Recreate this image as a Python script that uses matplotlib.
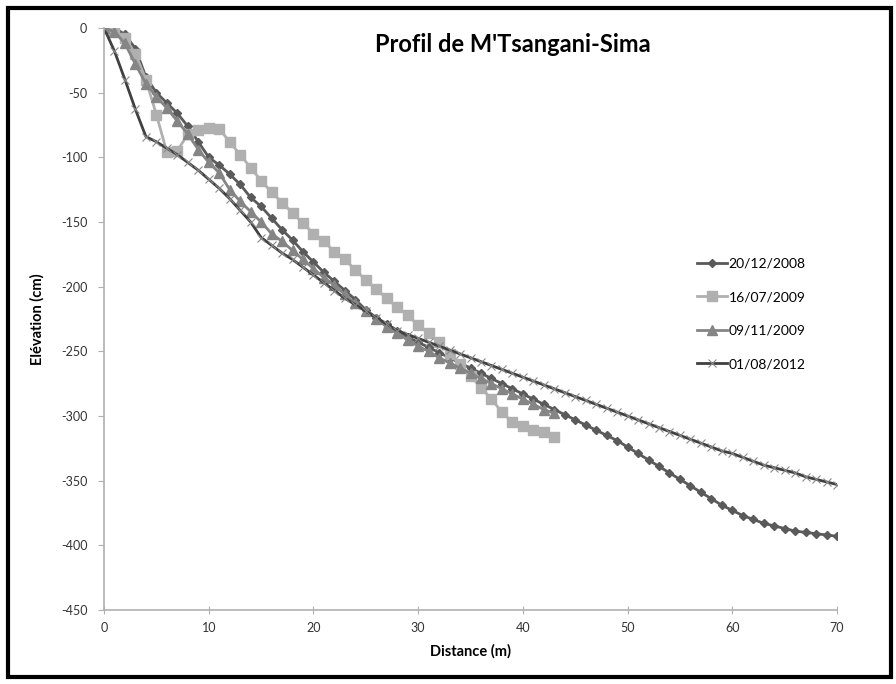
import numpy as np
import matplotlib
matplotlib.use('Agg')
import matplotlib.pyplot as plt
from matplotlib.patches import Rectangle

plt.rcParams['font.family'] = ['Lato', 'DejaVu Sans']
plt.rcParams['axes.unicode_minus'] = False

# distances (m)
dist_2008 = list(range(0, 71))
dist_2009a = list(range(0, 44))
dist_2009b = list(range(0, 44))
dist_2012 = list(range(0, 71))

elev_2008 = [0, 0, -5, -16, -38, -50, -58, -66, -76, -88,
             -100, -106, -113, -121, -131, -138, -147, -156, -164, -173,
             -181, -189, -196, -203, -210, -218, -224, -229, -234, -239,
             -243, -247, -251, -255, -259, -263, -267, -271, -275, -279,
             -283, -287, -291, -295, -299, -303, -307, -311, -315, -319,
             -324, -329, -334, -339, -344, -349, -354, -359, -364, -369,
             -373, -377, -380, -383, -385, -387, -389, -390, -391, -392,
             -393]
elev_2009a = [0, -2, -8, -20, -40, -67, -96, -95, -82, -79,
              -77, -78, -88, -98, -108, -118, -127, -135, -143, -151,
              -159, -165, -173, -179, -187, -195, -202, -209, -216, -222,
              -230, -236, -243, -252, -260, -269, -278, -287, -297, -305,
              -308, -311, -312, -316]
elev_2009b = [0, -3, -12, -28, -43, -53, -62, -72, -82, -94,
              -104, -112, -125, -134, -142, -150, -159, -165, -172, -179,
              -186, -193, -199, -206, -213, -219, -225, -231, -236, -241,
              -246, -250, -255, -259, -263, -267, -271, -275, -279, -283,
              -287, -291, -295, -298]
elev_2012 = [0, -18, -40, -63, -84, -88, -93, -98, -104, -110,
             -117, -124, -132, -141, -150, -162, -168, -174, -179, -185,
             -191, -197, -203, -209, -214, -219, -224, -229, -234, -237,
             -240, -243, -246, -249, -252, -255, -258, -261, -264, -267,
             -270, -273, -276, -279, -282, -285, -288, -291, -294, -297,
             -300, -303, -306, -309, -312, -315, -318, -321, -324, -327,
             -329, -332, -335, -338, -340, -342, -344, -347, -349, -351,
             -353]

labels = ['20/12/2008', '16/07/2009', '09/11/2009', '01/08/2012']

fig = plt.figure(figsize=(8.96, 6.84), dpi=100)
ax = fig.add_axes([0.1161, 0.1082, 0.8181, 0.8509])

ax.plot(dist_2008, elev_2008, color='#5a5a5a', lw=2, marker='D', ms=4.5, label=labels[0])
ax.plot(dist_2009a, elev_2009a, color='#b0b0b0', lw=2, marker='s', ms=6.5, label=labels[1])
ax.plot(dist_2009b, elev_2009b, color='#858585', lw=2, marker='^', ms=7, label=labels[2])
ax.plot(dist_2012, elev_2012, color='#404040', lw=2, marker='x', ms=6, mew=0.8,
        mec='#8a8a8a', label=labels[3])

ax.set_xlim(0, 70)
ax.set_ylim(-450, 0)
ax.set_xticks(range(0, 71, 10))
ax.set_yticks(range(-450, 1, 50))
for s in ['top', 'right']:
    ax.spines[s].set_visible(False)
for s in ['left', 'bottom']:
    ax.spines[s].set_color('#b0b0b0')
    ax.spines[s].set_linewidth(1.2)
ax.tick_params(colors='#b0b0b0', labelcolor='#333333', labelsize=9, length=4)
ax.tick_params(axis='y', pad=8)
ax.tick_params(axis='x', direction='inout', length=6, pad=6)

ax.set_xlabel('Distance (m)', fontsize=10.5, fontweight='bold', labelpad=7)
ax.set_ylabel('Elévation (cm)', fontsize=10.5, fontweight='bold', labelpad=12)
fig.text(513/896, 0.935, "Profil de M'Tsangani-Sima",
         ha='center', va='center', fontsize=17, fontweight='bold')

ax.legend(loc='upper left', bbox_to_anchor=(684/896, 1 - 245/684), bbox_transform=fig.transFigure,
          frameon=False, fontsize=10, handlelength=2.2, handletextpad=0.1,
          labelspacing=1.55)

# black border around the picture
fig.patches.append(Rectangle((7.5/896, 1 - 677/684), 883/896, 669/684, transform=fig.transFigure,
                             fill=False, edgecolor='black', lw=3))

fig.savefig('out.png', dpi=100)
